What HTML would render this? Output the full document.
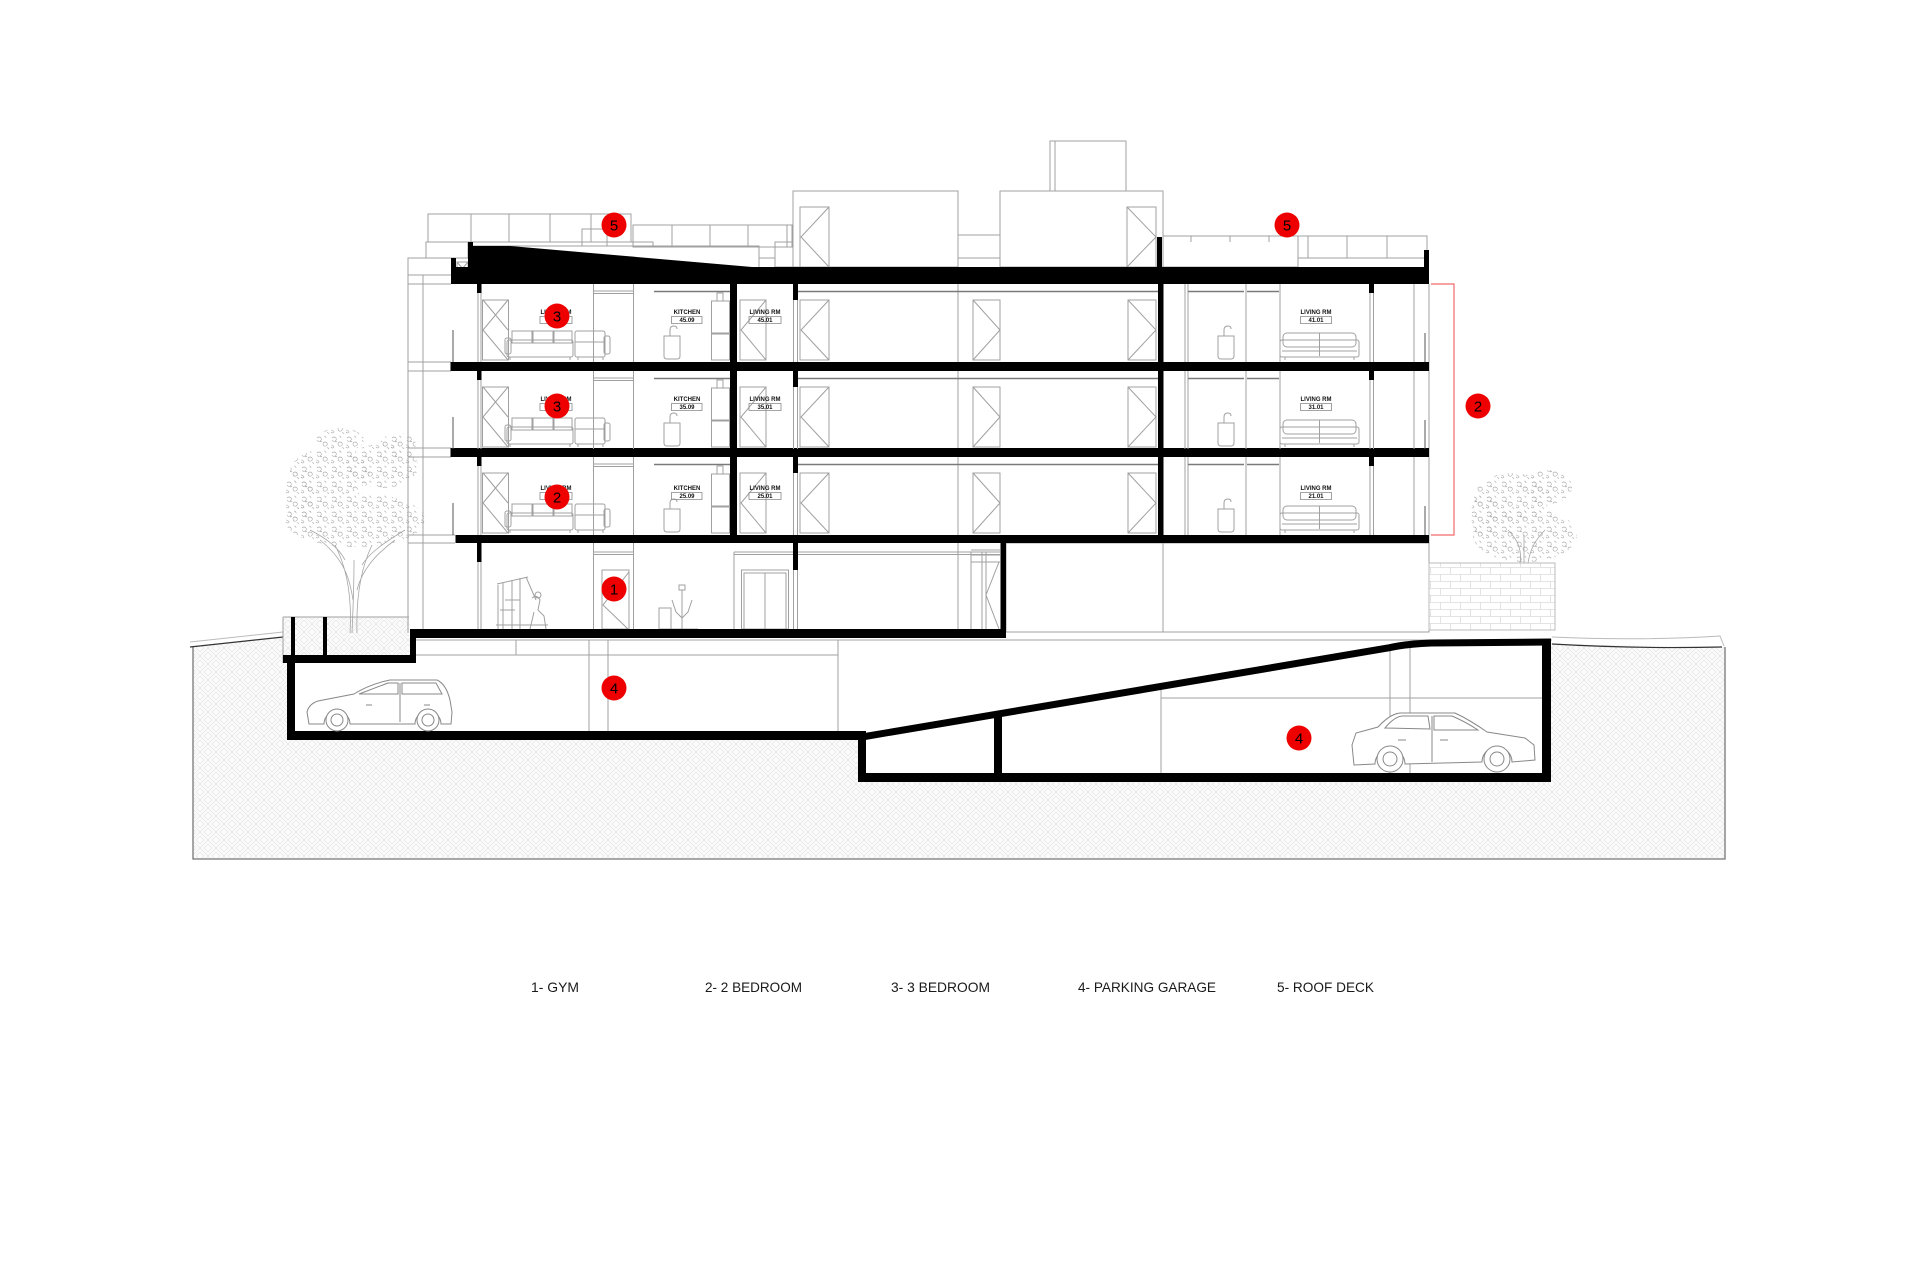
<!DOCTYPE html>
<html><head><meta charset="utf-8"><style>
html,body{margin:0;padding:0;background:#fff;}
svg{display:block}
</style></head><body>
<svg width="1920" height="1280" viewBox="0 0 1920 1280" xmlns="http://www.w3.org/2000/svg">
<defs>
<pattern id="hatch" width="16" height="16" patternUnits="userSpaceOnUse">
 <rect width="16" height="16" fill="#fbfbfb"/>
 <path d="M0 4L4 0M0 8L8 0M4 8L8 4M8 0L16 8M8 4L12 8M12 0L16 4M0 8L8 16M0 12L4 16M4 8L8 12M8 12L12 8M8 16L16 8M12 16L16 12" stroke="#e4e4e4" stroke-width="0.7" fill="none"/>
</pattern>
<pattern id="leaf" width="15" height="15" patternUnits="userSpaceOnUse">
 <path d="M2 3q2-2 4 0q1 2-1 3q-2 1-3-1M8 8q2-2 4 0q1 2-1 3q-3 1-3-3M9 1q2 0 2 2M1 10q2 0 3 2q-1 2-3 0M5 7q1-1 2 0M12 13q1-1 2 1" fill="none" stroke="#ababab" stroke-width="0.6"/>
</pattern>
<pattern id="brick" width="20" height="14" patternUnits="userSpaceOnUse">
 <path d="M0 0.5H20M0 7.5H20M0.5 0V7M10.5 7V14" stroke="#dcdcdc" stroke-width="0.8" fill="none"/>
</pattern>

<g id="fl">
 <g fill="#000">
  <rect x="477" y="284" width="4.5" height="9"/>
  <rect x="793" y="284" width="5" height="16"/>
  <rect x="1369" y="284" width="5" height="9"/>
 </g>
 <g fill="none" stroke="#a0a0a0" stroke-width="1">
  <path d="M478 293V362M481 293V362"/>
  <rect x="482.5" y="300" width="26" height="60"/>
  <path d="M508 300L483 330L508 360M483 300L508 330"/>
  <rect x="507" y="340" width="66" height="17" rx="2"/>
  <rect x="512" y="331" width="20" height="12"/><rect x="533" y="331" width="20" height="12"/><rect x="554" y="331" width="18" height="12"/>
  <rect x="505" y="338" width="6" height="16" rx="2"/>
  <rect x="575" y="331" width="30" height="26" rx="2"/>
  <path d="M575 342H605M510 357V360M570 357V360M578 357V360M603 357V360"/>
  <rect x="604" y="336" width="6" height="18" rx="2"/>
  <path d="M593.5 284V362M633.5 284V362M593.5 291H633.5M593.5 293.5H633.5"/>
  <path d="M664 336h16v20q0 3-3 3h-10q-3 0-3-3zM670 336v-6q0-4 4-4q3 0 3 3"/>
  <rect x="717" y="293" width="6" height="8"/><rect x="711.5" y="301" width="18" height="32"/><rect x="711.5" y="334" width="18" height="26"/>
  <rect x="740" y="300" width="26" height="60"/><path d="M766 300L741 330L766 360"/>
  <path d="M793.5 300V362M797.5 300V362"/>
  <rect x="800" y="300" width="29" height="60"/><path d="M829 300L801 330L829 360"/>
  <rect x="973" y="300" width="27" height="60"/><path d="M973 300L1000 330L973 360"/>
  <rect x="1128" y="300" width="28" height="60"/><path d="M1128 300L1156 330L1128 360"/>
  <path d="M1185 284V362M1188 284V362M1246 284V362M1280 284V362M1414 284V362"/>
  <path d="M1218 336h16v20q0 3-3 3h-10q-3 0-3-3zM1224 336v-6q0-4 4-4q3 0 3 3"/>
  <rect x="1283" y="333" width="73" height="14" rx="4"/>
  <path d="M1319.5 333V356"/>
  <rect x="1280" y="340" width="79" height="17" rx="2"/>
  <path d="M1282 351H1357M1285 357V360M1354 357V360"/>
  <path d="M1370 293V362M1373.5 293V362"/>
 </g>
 <g fill="none" stroke="#7a7a7a" stroke-width="1.5">
  <path d="M654 291.5H730M798 291.5H1158M1188 291.5H1244M1247 291.5H1279"/>
 </g>
 <path d="M453 330V362M1425 333V362" stroke="#555" stroke-width="1"/>
</g>
</defs>

<!-- ground hatch -->
<path d="M193 647L283 637L283 617L409 617L409 638L1552 638L1552 644L1725 647L1725 859L193 859Z" fill="url(#hatch)"/>
<path d="M193 647V859H1725V647" fill="none" stroke="#777" stroke-width="1.3"/>
<!-- ground surface -->
<path d="M190 647L283 637" fill="none" stroke="#333" stroke-width="1.2"/>
<path d="M190 642L283 632" fill="none" stroke="#bbb" stroke-width="1"/>
<path d="M1552 644Q1640 649 1722 647" fill="none" stroke="#333" stroke-width="1.2"/>
<path d="M1552 637Q1640 641 1720 636L1724 646" fill="none" stroke="#bbb" stroke-width="1"/>
<!-- interior white -->
<path d="M416 638L1552 638L1542 648L1542 773L866 773L866 731L295 731L295 663L416 663Z" fill="#fff"/>

<!-- building thin lines -->
<g fill="none" stroke="#a0a0a0" stroke-width="1">
 <rect x="428" y="214" width="203" height="28"/>
 <path d="M471 214V242M509 214V242M550 214V242M591 214V242"/>
 <rect x="582" y="229" width="25" height="17"/>
 <rect x="607" y="242" width="46" height="4"/>
 <rect x="633" y="225" width="159" height="22"/>
 <path d="M672 225V247M710 225V247M748 225V247M787 225V247"/>
 <path d="M473 246H759V267M759 258H775"/>
 <rect x="775" y="242" width="18" height="25"/>
 <rect x="426" y="242" width="42" height="16"/>
 <rect x="408" y="258" width="44" height="17"/>
 <rect x="457" y="262" width="11" height="13"/><path d="M457 262L468 275M468 262L457 275"/>
 <rect x="793" y="191" width="165" height="76"/>
 <rect x="800" y="207" width="29" height="60"/><path d="M829 207L801 237L829 267"/>
 <rect x="958" y="235" width="42" height="23"/>
 <rect x="1000" y="191" width="163" height="76"/>
 <rect x="1127" y="207" width="29" height="60"/><path d="M1127 207L1156 237L1127 267"/>
 <rect x="1050" y="141" width="76" height="50"/><path d="M1055 141V191"/>
 <rect x="1163" y="236" width="135" height="31"/>
 <path d="M1191 236V242M1230 236V242M1269 236V242"/>
 <rect x="1298" y="236" width="129" height="22"/>
 <path d="M1308 236V258M1347 236V258M1387 236V258"/>
 <path d="M408 275V633M423 275V633"/>
 <path d="M408 284H451M408 362H451M408 371H451M408 448H451M408 457H451M408 535H455M408 543H455"/>
 <path d="M958 191V632"/>
 <path d="M1429 284V632"/>
 <path d="M478 562V629M481 562V629"/>
 <path d="M593.5 543V629M633.5 543V629M593.5 552H633.5M593.5 554.5H633.5"/>
 <rect x="602" y="570" width="27" height="59"/><path d="M629 572L603 605L628 629"/>
 <path d="M734 552V629M734 552H1000M734 554.5H1000"/>
 <rect x="741.5" y="570" width="47" height="59"/><rect x="744" y="573" width="42" height="56"/><path d="M765 573V629"/>
 <path d="M793.5 570V629M797.5 570V629"/>
 <path d="M971 552V629M982 552V629M986 552V629M971 550H1000M971 555H1000M971 562H1000M999 562L986 595L999 629"/>
 <path d="M498 629V585M503 629V583M512 629V580M497 584L528 577M520 578V629M526 577L536 600M505 600H520M496 625H548M500 610H515"/>
 <path d="M532 598q5-4 8 2l-2 10l6 6l2 13M534 612l-4 17"/>
 <circle cx="538" cy="595" r="3"/>
 <path d="M682 590V629M679 585h6v5h-6zM672 600L676 612L682 618M692 600L688 612L682 618M668 629H698"/>
 <rect x="659" y="608" width="12" height="21"/>
 <rect x="1006" y="543" width="423" height="89"/>
 <path d="M1163 543V632"/>
 <path d="M416 640H1552M416 655H838M589 640V731M608 640V731M838 640V731M516 640V655"/>
 <path d="M1161 684V773M1390 647V773M1410 645V773M1161 698H1542"/>
 <path d="M283 617H409M283 617V663"/>
</g>

<!-- black structure -->
<g fill="#000">
 <rect x="451" y="258" width="5" height="26"/>
 <polygon points="468,242 473,242 473,246 510,246 752,267 468,267"/>
 <rect x="451" y="267" width="978" height="17"/>
 <rect x="1424" y="250" width="5" height="17"/>
 <rect x="1157" y="237" width="5" height="30"/>
 <rect x="450.5" y="362" width="978.5" height="9"/>
 <rect x="450.5" y="448" width="978.5" height="9"/>
 <rect x="455.5" y="535" width="973.5" height="8"/>
 <rect x="730" y="284" width="7" height="251"/>
 <rect x="1158" y="284" width="5.5" height="251"/>
 <rect x="477" y="543" width="4.5" height="19"/>
 <rect x="793" y="543" width="5" height="27"/>
 <rect x="1000.5" y="543" width="5.5" height="95"/>
 <rect x="410" y="629" width="596" height="9"/>
 <rect x="410" y="629" width="6" height="34"/>
 <rect x="283" y="655" width="133" height="8"/>
 <rect x="291" y="617" width="4" height="46"/>
 <rect x="323" y="617" width="4" height="46"/>
 <rect x="287" y="655" width="8" height="85"/>
 <rect x="287" y="731" width="579" height="9"/>
 <rect x="858" y="731" width="8" height="51"/>
 <rect x="858" y="773" width="693" height="9"/>
 <rect x="1542" y="642" width="9" height="140"/>
 <rect x="994" y="712" width="8" height="63"/>
</g>
<path d="M862 737L1388 648Q1405 644 1431 643L1551 642" fill="none" stroke="#000" stroke-width="7"/>

<use href="#fl"/>
<use href="#fl" transform="translate(0,87)"/>
<use href="#fl" transform="translate(0,173)"/>

<g font-family="Liberation Sans, Arial, sans-serif" font-size="6" font-weight="bold" fill="#111" text-anchor="middle">
 <g>
  <text x="556" y="314">LIVING RM</text><text x="687" y="314">KITCHEN</text><text x="765" y="314">LIVING RM</text><text x="1316" y="314">LIVING RM</text>
  <text x="556" y="322">45.05</text><text x="687" y="322">45.09</text><text x="765" y="322">45.01</text><text x="1316" y="322">41.01</text>
 </g>
 <g transform="translate(0,87)">
  <text x="556" y="314">LIVING RM</text><text x="687" y="314">KITCHEN</text><text x="765" y="314">LIVING RM</text><text x="1316" y="314">LIVING RM</text>
  <text x="556" y="322">35.05</text><text x="687" y="322">35.09</text><text x="765" y="322">35.01</text><text x="1316" y="322">31.01</text>
 </g>
 <g transform="translate(0,176)">
  <text x="556" y="314">LIVING RM</text><text x="687" y="314">KITCHEN</text><text x="765" y="314">LIVING RM</text><text x="1316" y="314">LIVING RM</text>
  <text x="556" y="322">25.05</text><text x="687" y="322">25.09</text><text x="765" y="322">25.01</text><text x="1316" y="322">21.01</text>
 </g>
</g>
<g fill="none" stroke="#888" stroke-width="0.8">
 <path d="M540 316.5h32v7h-32zM671.5 316.5h30.5v7h-30.5zM749 316.5h32v7h-32zM1300.5 316.5h31v7h-31z"/>
 <path d="M540 316.5h32v7h-32zM671.5 316.5h30.5v7h-30.5zM749 316.5h32v7h-32zM1300.5 316.5h31v7h-31z" transform="translate(0,87)"/>
 <path d="M540 316.5h32v7h-32zM671.5 316.5h30.5v7h-30.5zM749 316.5h32v7h-32zM1300.5 316.5h31v7h-31z" transform="translate(0,176)"/>
</g>

<!-- cars -->
<g fill="#fff" stroke="#888" stroke-width="1">
 <path d="M309 724L307 712Q309 704 318 701L354 694Q370 684 390 680L437 680Q446 684 450 700L452 712L451 724L441 724A13 13 0 0 0 415 724L350 724A13 13 0 0 0 324 724Z"/>
 <path d="M359 694L388 683L398 683L398 694ZM402 683L436 683L442 694L402 694ZM400 683V722M366 705h6M424 705h6"/>
 <circle cx="337" cy="720" r="11"/><circle cx="337" cy="720" r="6"/>
 <circle cx="428" cy="720" r="11"/><circle cx="428" cy="720" r="6"/>
 <path d="M1354 765L1352 745L1356 733L1378 727Q1390 714 1400 713L1455 713Q1470 720 1487 732L1525 738L1534 745L1535 760L1512 762A15 15 0 0 0 1482 762L1405 764A15 15 0 0 0 1375 764Z"/>
 <path d="M1385 728Q1394 717 1402 716L1428 716L1430 729ZM1434 716L1452 716Q1466 722 1478 730L1434 730ZM1432 716V762M1398 740h8M1440 740h8"/>
 <circle cx="1390" cy="759" r="13"/><circle cx="1390" cy="759" r="7"/>
 <circle cx="1497" cy="759" r="13"/><circle cx="1497" cy="759" r="7"/>
</g>

<rect x="1429" y="563" width="126" height="67" fill="url(#brick)" stroke="#bbb" stroke-width="1"/>

<!-- trees -->
<g fill="url(#leaf)">
 <ellipse cx="355" cy="520" rx="70" ry="27"/>
 <ellipse cx="330" cy="472" rx="40" ry="24"/>
 <ellipse cx="382" cy="466" rx="36" ry="22"/>
 <ellipse cx="340" cy="440" rx="24" ry="12"/>
 <ellipse cx="398" cy="445" rx="18" ry="12"/>
 <ellipse cx="300" cy="495" rx="16" ry="24"/>
 <ellipse cx="1525" cy="535" rx="52" ry="27"/>
 <ellipse cx="1512" cy="497" rx="38" ry="24"/>
 <ellipse cx="1548" cy="487" rx="24" ry="17"/>
 <ellipse cx="1485" cy="515" rx="14" ry="22"/>
</g>
<g fill="none" stroke="#a5a5a5" stroke-width="0.8">
 <path d="M350 633C352 600 348 570 335 545M357 633C356 600 360 570 372 545M353 600C350 580 345 560 320 540M357 590C362 570 375 555 395 540M352 633C353 610 354 590 354 560M345 560C340 550 330 540 310 530M362 565C368 555 380 545 405 530"/>
 <path d="M1520 563C1522 550 1518 540 1508 530M1528 563C1530 550 1535 540 1545 530M1524 563V535"/>
</g>

<path d="M1431 284H1454V535H1431" fill="none" stroke="#f06a6a" stroke-width="1.2"/>

<g fill="#ee0000">
 <circle cx="614" cy="225" r="12.5"/>
 <circle cx="1287" cy="225" r="12.5"/>
 <circle cx="557" cy="316" r="12.5"/>
 <circle cx="557" cy="406" r="12.5"/>
 <circle cx="557" cy="497" r="12.5"/>
 <circle cx="1478" cy="406" r="12.5"/>
 <circle cx="614" cy="589" r="12.5"/>
 <circle cx="614" cy="688" r="12.5"/>
 <circle cx="1299" cy="738" r="12.5"/>
</g>
<g font-family="Liberation Sans, Arial, sans-serif" font-size="15" fill="#000" text-anchor="middle">
 <text x="614" y="230.5">5</text>
 <text x="1287" y="230.5">5</text>
 <text x="557" y="321.5">3</text>
 <text x="557" y="411.5">3</text>
 <text x="557" y="502.5">2</text>
 <text x="1478" y="411.5">2</text>
 <text x="614" y="594.5">1</text>
 <text x="614" y="693.5">4</text>
 <text x="1299" y="743.5">4</text>
</g>

<g font-family="Liberation Sans, Arial, sans-serif" font-size="14" fill="#1a1a1a">
 <text x="531" y="992" textLength="48" lengthAdjust="spacingAndGlyphs">1- GYM</text>
 <text x="705" y="992" textLength="97" lengthAdjust="spacingAndGlyphs">2- 2 BEDROOM</text>
 <text x="891" y="992" textLength="99" lengthAdjust="spacingAndGlyphs">3- 3 BEDROOM</text>
 <text x="1078" y="992" textLength="138" lengthAdjust="spacingAndGlyphs">4- PARKING GARAGE</text>
 <text x="1277" y="992" textLength="97" lengthAdjust="spacingAndGlyphs">5- ROOF DECK</text>
</g>
</svg>
</body></html>
